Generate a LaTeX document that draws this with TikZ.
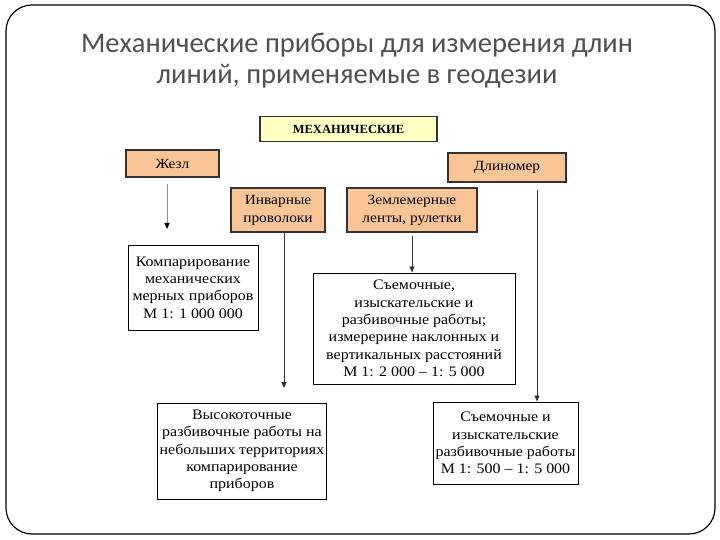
\documentclass[tikz,border=0pt]{standalone}
\usepackage{fontspec}
\setmainfont{Liberation Serif}
\newfontfamily\titlefont{Carlito}
\newfontfamily\boxfont[FakeStretch=1.1,Ligatures=TeX]{Liberation Serif}
\usetikzlibrary{arrows.meta}
\definecolor{peach}{HTML}{F9C597}
\definecolor{lightyel}{HTML}{FFFFC4}
\definecolor{titlegray}{HTML}{505050}
\tikzset{
  catbox/.style={draw=black!80, line width=1.2pt, fill=peach, inner sep=2pt, align=center, font=\boxfont\fontsize{14}{18}\selectfont},
  topbox/.style={draw=black!80, line width=1.2pt, fill=lightyel, inner sep=2pt, align=center, font=\fontsize{12.5}{14}\selectfont\bfseries},
  resbox/.style={draw=black, line width=1pt, fill=white, inner sep=2pt, align=center, font=\boxfont\fontsize{14.5}{17.3}\selectfont},
  arr/.style={draw=black!80, line width=0.9pt, -{Triangle[length=6pt,width=5pt]}},
  garr/.style={draw=black!45, line width=1pt, -{Triangle[length=6pt,width=5pt,color=black]}}
}
\begin{document}
\begin{tikzpicture}[x=1pt,y=-1pt]
\useasboundingbox (0,0) rectangle (720,540);
\fill[white] (0,0) rectangle (720,540);
\draw[line width=1.2pt, rounded corners=26pt] (6,5) rectangle (715,534);
\node[text=titlegray, font=\titlefont\fontsize{28.5}{31}\selectfont, align=center] (title) at (357,61)
  {Механические приборы для измерения длин\\линий, применяемые в геодезии};
\node[topbox, minimum width=177pt, minimum height=25pt] (mech) at (348.5,129) {МЕХАНИЧЕСКИЕ};
\node[catbox, minimum width=93pt, minimum height=27pt] (zhezl) at (172.5,163.5) {Жезл};
\node[catbox, minimum width=118pt, minimum height=29pt] (dlin) at (507,167.5) {Длиномер};
\node[catbox, minimum width=94pt, minimum height=44pt] (invar) at (278,210) {Инварные\\проволоки};
\node[catbox, minimum width=130pt, minimum height=44pt] (zeml) at (412,210) {Землемерные\\ленты, рулетки};
\node[resbox, minimum width=130pt, minimum height=85pt] (komp) at (193,287.5)
  {Компарирование\\механических\\мерных приборов\\М 1: 1 000 000};
\node[resbox, minimum width=202pt, minimum height=111pt] (sem) at (414,328.5)
  {Съемочные,\\изыскательские и\\разбивочные работы;\\измерерине наклонных и\\вертикальных расстояний\\М 1: 2 000 – 1: 5 000};
\node[resbox, minimum width=168pt, minimum height=96pt] (vys) at (242,451)
  {Высокоточные\\разбивочные работы на\\небольших территориях\\компарирование\\приборов};
\node[resbox, minimum width=145pt, minimum height=82pt] (sem2) at (505.5,443)
  {Съемочные и\\изыскательские\\разбивочные работы\\М 1: 500 – 1: 5 000};
\coordinate (zs) at (167,184);
\coordinate (ze) at (167,229);
\draw[garr] (zs) -- (ze);
\coordinate (is) at (284,232);
\coordinate (ie) at (284,388);
\draw[arr] (is) -- (ie);
\draw[arr] ([yshift=-3pt]zeml.south) -- (sem.north -| zeml.south);
\coordinate (ds) at (537,190);
\draw[arr] (ds) -- (sem2.north -| ds);
\end{tikzpicture}
\end{document}
